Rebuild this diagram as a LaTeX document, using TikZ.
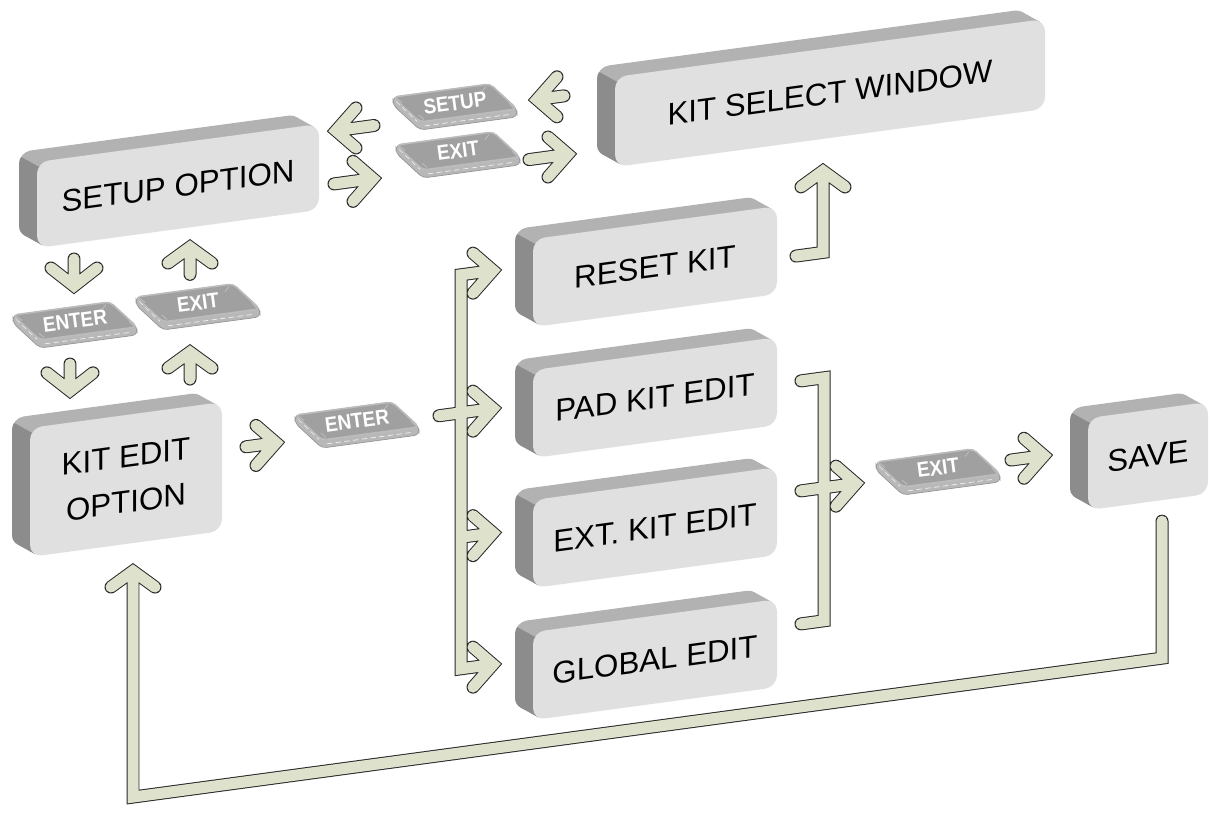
\documentclass[tikz,border=0pt]{standalone}
\usepackage{fontspec}
\setmainfont{Liberation Sans}
\usetikzlibrary{calc}
\definecolor{frontc}{RGB}{224,224,224}
\definecolor{topc}{RGB}{178,178,178}
\definecolor{sidec}{RGB}{140,140,140}
\definecolor{btntop}{RGB}{160,160,160}
\definecolor{btnedge}{RGB}{188,188,188}
\definecolor{btnside}{RGB}{184,184,184}
\definecolor{btnline}{RGB}{150,150,150}
\definecolor{arrowc}{RGB}{222,226,205}
\definecolor{arrowo}{RGB}{40,40,40}
\tikzset{
  front/.style={transform shape, fill=frontc, rounded corners=0.24cm, inner sep=0pt, align=center,
    font=\fontsize{17.8}{26}\selectfont},
  btntext/.style={text=white, font=\fontsize{12}{14}\selectfont\bfseries, rotate=7.7, xscale=0.9, inner sep=0pt},
  arrout/.style={draw=arrowo, line width=0.26cm, line cap=round, line join=miter},
  arrin/.style={draw=arrowc, line width=0.22cm, line cap=round, line join=miter}
}
\newcommand\kbox[6]{%
  \pgfmathsetmacro\kXa{#2-#4/2}%
  \pgfmathsetmacro\kXb{#2+#4/2}%
  \pgfmathsetmacro\kYa{#3+#5/2}%
  \pgfmathsetmacro\kYb{#3-#5/2}%
  \fill[topc, rounded corners=0.24cm] (\kXa-18,\kYa+12.4) rectangle (\kXb-18,\kYb+12.4);
  \fill[topc] (\kXb-5.2,\kYa-2.1) -- ++(-18,12.4) -- (\kXa-12.8,\kYb+14.5) -- (\kXa+5.2,\kYb+2.1) -- cycle;
  \begin{scope}
    \clip (\kXa+12,\kYa-12) -- ++(-36,24.8) -- (\kXa-40,\kYb-30) -- (\kXa+12,\kYb-30) -- cycle;
    \fill[sidec, rounded corners=0.24cm] (\kXa-18,\kYa+12.4) rectangle (\kXb-18,\kYb+12.4);
    \fill[sidec] (\kXb-5.2,\kYa-2.1) -- ++(-18,12.4) -- (\kXa-12.8,\kYb+14.5) -- (\kXa+5.2,\kYb+2.1) -- cycle;
  \end{scope}
  \node[front, minimum width=#4*0.02cm, minimum height=#5*0.02cm] (#1) at (#2,#3) {#6};
}
\newcommand\kbtn[4]{%
  \filldraw[fill=btnside, draw=btnline, line width=0.4pt, rounded corners=0.09cm] (#2-27,#3+28.6) -- (#2-27,#3+20.6) -- (#2,#3-8) -- (#2+97,#3-8) -- (#2+97,#3) -- (#2+70,#3+28.6) -- cycle;
  \draw[white, line width=0.4pt, dash pattern=on 3pt off 2pt, opacity=0.8] (#2+5,#3-4.5) -- (#2+92,#3-4.5);
  \draw[white, line width=0.4pt, dash pattern=on 3pt off 2pt, opacity=0.8] (#2-24,#3+24) -- (#2-3,#3+1);
  \filldraw[fill=btntop, draw=btnedge, line width=0.9pt, rounded corners=0.09cm] (#2,#3) -- (#2+97,#3) -- (#2+70,#3+28.6) -- (#2-27,#3+28.6) -- cycle;
  \draw[btnedge, line width=0.5pt] (#2+4,#3+2) -- (#2-1,#3+7) (#2+93,#3+2) -- (#2+89,#3+7)
    (#2+66,#3+26.6) -- (#2+62,#3+22) (#2-23,#3+26.6) -- (#2-18,#3+22);
  \node[btntext] (#1) at (#2+35,#3+14.3) {#4};
}
\newcommand\fat[1]{\draw[arrout] #1; \draw[arrin] #1;}
\begin{document}
\begin{tikzpicture}[x=0.02cm,y=0.02cm]
\useasboundingbox (0,0) rectangle (1211,-816);
\begin{scope}[yslant=0.135]
  % boxes
  \kbox{setup}{178}{-210}{282}{86}{SETUP OPTION}
  \kbox{ksw}{830}{-205}{430}{90}{KIT SELECT WINDOW}
  \kbox{reset}{655}{-355}{244}{88}{RESET KIT}
  \kbox{pad}{655}{-486}{244}{88}{PAD KIT EDIT}
  \kbox{ext}{655}{-616}{244}{88}{EXT. KIT EDIT}
  \kbox{global}{655}{-748}{244}{88}{GLOBAL EDIT}
  \kbox{keo}{126}{-496.5}{192}{129}{KIT EDIT\\OPTION}
  \kbox{save}{1148}{-611}{120}{92}{SAVE}
  % buttons
  \kbtn{bsetup}{420}{-178.7}{SETUP}
  \kbtn{bexitA}{423}{-227.1}{EXIT}
  \kbtn{benterA}{40}{-345.4}{ENTER}
  \kbtn{bexitB}{163}{-344}{EXIT}
  \kbtn{benterB}{322}{-483.5}{ENTER}
  \kbtn{bexitC}{903}{-608.9}{EXIT}
  % arrow end points
  \coordinate (a1s) at (374,-176);  \coordinate (a1e) at (336,-176);
  \coordinate (a2s) at (564,-172);  \coordinate (a2e) at (537,-172);
  \coordinate (a3s) at (334,-229);  \coordinate (a3e) at (373,-229);
  \coordinate (a4s) at (529,-231);  \coordinate (a4e) at (568,-231);
  \coordinate (a5s) at (74,-269);   \coordinate (a5e) at (74,-296);
  \coordinate (a6s) at (190,-300);  \coordinate (a6e) at (190,-272.7);
  \coordinate (a7s) at (70,-373.5); \coordinate (a7e) at (70,-400.3);
  \coordinate (a8s) at (190,-404.7);\coordinate (a8e) at (190,-377.7);
  \coordinate (a9s) at (246,-480);  \coordinate (a9e) at (276,-480);
  \coordinate (busT) at (461,-337); \coordinate (busB) at (461,-731);
  \coordinate (busE) at (461,-599.5);
  \coordinate (tR) at (493,-337);   \coordinate (tP) at (493,-475);
  \coordinate (tE) at (493,-599.5); \coordinate (tG) at (493,-731);
  \coordinate (stub) at (439,-475);
  \coordinate (lS) at (796,-363.5); \coordinate (lC) at (823,-363.5); \coordinate (lE) at (823,-282);
  \coordinate (kT) at (801,-489);   \coordinate (kTc) at (824,-489);
  \coordinate (kBc) at (824,-732);  \coordinate (kB) at (801,-732);
  \coordinate (kM) at (801,-599);   \coordinate (kMe) at (856,-599);
  \coordinate (a13s) at (1011,-596.5); \coordinate (a13e) at (1044,-596.5);
  \coordinate (rS) at (1162,-678);  \coordinate (rC1) at (1162,-815);
  \coordinate (rC2) at (133,-815);  \coordinate (rE) at (133,-589);
  % arrows
  \fat{(a1s) -- (a1e) ++(20,20) -- ++(-20,-20) -- ++(20,-20)}
  \fat{(a2s) -- (a2e) ++(20,20) -- ++(-20,-20) -- ++(20,-20)}
  \fat{(a3s) -- (a3e) ++(-20,20) -- ++(20,-20) -- ++(-20,-20)}
  \fat{(a4s) -- (a4e) ++(-20,20) -- ++(20,-20) -- ++(-20,-20)}
  \fat{(a5s) -- (a5e) ++(-23,21.1) -- ++(23,-21.1) -- ++(23,14.9)}
  \fat{(a6s) -- (a6e) ++(-22,-13) -- ++(22,13) -- ++(22,-19)}
  \fat{(a7s) -- (a7e) ++(-23,21.1) -- ++(23,-21.1) -- ++(23,14.9)}
  \fat{(a8s) -- (a8e) ++(-22,-13) -- ++(22,13) -- ++(22,-19)}
  \fat{(a9s) -- (a9e) ++(-20,20) -- ++(20,-20) -- ++(-20,-20)}
  \fat{(tR) -- (busT) -- (busB) -- (tG) (stub) -- (tP) (busE) -- (tE)
       (tR) ++(-20,20) -- ++(20,-20) -- ++(-20,-20)
       (tP) ++(-20,20) -- ++(20,-20) -- ++(-20,-20)
       (tE) ++(-20,20) -- ++(20,-20) -- ++(-20,-20)
       (tG) ++(-20,20) -- ++(20,-20) -- ++(-20,-20)}
  \fat{(lS) -- (lC) -- (lE) ++(-22,-13) -- ++(22,13) -- ++(22,-19)}
  \fat{(kT) -- (kTc) -- (kBc) -- (kB) (kM) -- (kMe) ++(-20,20) -- ++(20,-20) -- ++(-20,-20)}
  \fat{(a13s) -- (a13e) ++(-20,20) -- ++(20,-20) -- ++(-20,-20)}
  \fat{(rS) -- (rC1) -- (rC2) -- (rE) ++(-22,-13) -- ++(22,13) -- ++(22,-19)}
\end{scope}
\end{tikzpicture}
\end{document}
